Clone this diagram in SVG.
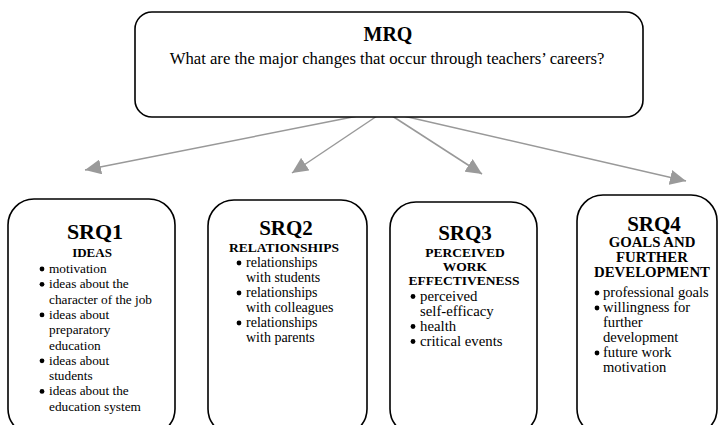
<svg xmlns="http://www.w3.org/2000/svg" width="719" height="425" viewBox="0 0 719 425">
<style>
.box{fill:#fff;stroke:#000;stroke-width:1.6}
.t{font-family:"Liberation Serif","Times New Roman",serif;fill:#000}
.h1{font-size:20px;font-weight:bold;text-anchor:middle}
.q{font-size:16.7px;text-anchor:middle}
.h2{font-size:21px;font-weight:bold;text-anchor:middle}
.h3{font-size:13.5px;font-weight:bold;text-anchor:middle}
.dot{fill:#000}
.conn{stroke:#999;stroke-width:1.5;fill:none;marker-end:url(#ah)}
</style>
<defs>
<marker id="ah" viewBox="0 0 16 15" refX="16" refY="7.5" markerWidth="16" markerHeight="15" markerUnits="userSpaceOnUse" orient="auto">
<path d="M0,0 L16,7.5 L0,15 z" fill="#9a9a9a"/>
</marker>
</defs>
<rect width="719" height="425" fill="#fff"/>
<g id="connectors">
<line class="conn" x1="383" y1="111" x2="85" y2="170"/>
<line class="conn" x1="383" y1="112" x2="292" y2="173"/>
<line class="conn" x1="386" y1="112" x2="482" y2="174"/>
<line class="conn" x1="386" y1="112" x2="686" y2="181"/>
</g>
<g id="mrq">
<rect class="box" x="135" y="12" width="508" height="105" rx="17"/>
<text class="t h1" x="388" y="41">MRQ</text>
<text class="t q" x="387" y="64">What are the major changes that occur through teachers’ careers?</text>
</g>
<g id="srq1">
<rect class="box" x="8" y="199" width="167" height="236" rx="26"/>
<text class="t h2" x="95" y="239" style="font-size:22px">SRQ1</text>
<text class="t h3" x="92" y="257" style="font-size:13px">IDEAS</text>
<g class="t" style="font-size:13.3px">
<circle class="dot" cx="42" cy="269" r="2.4"/>
<circle class="dot" cx="42" cy="284.3" r="2.4"/>
<circle class="dot" cx="42" cy="314.9" r="2.4"/>
<circle class="dot" cx="42" cy="360.8" r="2.4"/>
<circle class="dot" cx="42" cy="391.4" r="2.4"/>
<text x="49" y="273">motivation</text>
<text x="49" y="288.3">ideas about the</text>
<text x="49" y="303.6">character of the job</text>
<text x="49" y="318.9">ideas about</text>
<text x="49" y="334.2">preparatory</text>
<text x="49" y="349.5">education</text>
<text x="49" y="364.8">ideas about</text>
<text x="49" y="380.1">students</text>
<text x="49" y="395.4">ideas about the</text>
<text x="49" y="410.7">education system</text>
</g>
</g>
<g id="srq2">
<rect class="box" x="208" y="200" width="159" height="235" rx="26"/>
<text class="t h2" x="286" y="235">SRQ2</text>
<text class="t h3" x="284" y="252">RELATIONSHIPS</text>
<g class="t" style="font-size:14px">
<circle class="dot" cx="239" cy="263" r="2.4"/>
<circle class="dot" cx="239" cy="293" r="2.4"/>
<circle class="dot" cx="239" cy="323" r="2.4"/>
<text x="246" y="267">relationships</text>
<text x="246" y="282">with students</text>
<text x="246" y="297">relationships</text>
<text x="246" y="312">with colleagues</text>
<text x="246" y="327">relationships</text>
<text x="246" y="342">with parents</text>
</g>
</g>
<g id="srq3">
<rect class="box" x="390" y="202" width="147" height="233" rx="26"/>
<text class="t h2" x="465" y="240">SRQ3</text>
<text class="t h3" x="465" y="257">PERCEIVED</text>
<text class="t h3" x="465" y="271">WORK</text>
<text class="t h3" x="464" y="285">EFFECTIVENESS</text>
<g class="t" style="font-size:14.8px">
<circle class="dot" cx="413" cy="296.5" r="2.4"/>
<circle class="dot" cx="413" cy="326.5" r="2.4"/>
<circle class="dot" cx="413" cy="341.5" r="2.4"/>
<text x="420" y="300.5">perceived</text>
<text x="420" y="315.5">self-efficacy</text>
<text x="420" y="330.5">health</text>
<text x="420" y="345.5">critical events</text>
</g>
</g>
<g id="srq4">
<rect class="box" x="577" y="195" width="140" height="240" rx="26"/>
<text class="t h2" x="654" y="231">SRQ4</text>
<text class="t h3" x="652" y="247" style="font-size:14.8px">GOALS AND</text>
<text class="t h3" x="652" y="262" style="font-size:14.8px">FURTHER</text>
<text class="t h3" x="652" y="277" style="font-size:14.8px">DEVELOPMENT</text>
<g class="t" style="font-size:14.6px">
<circle class="dot" cx="597" cy="293" r="2.4"/>
<circle class="dot" cx="597" cy="308" r="2.4"/>
<circle class="dot" cx="597" cy="353" r="2.4"/>
<text x="603" y="297">professional goals</text>
<text x="603" y="312">willingness for</text>
<text x="603" y="327">further</text>
<text x="603" y="342">development</text>
<text x="603" y="357">future work</text>
<text x="603" y="372">motivation</text>
</g>
</g>
</svg>
